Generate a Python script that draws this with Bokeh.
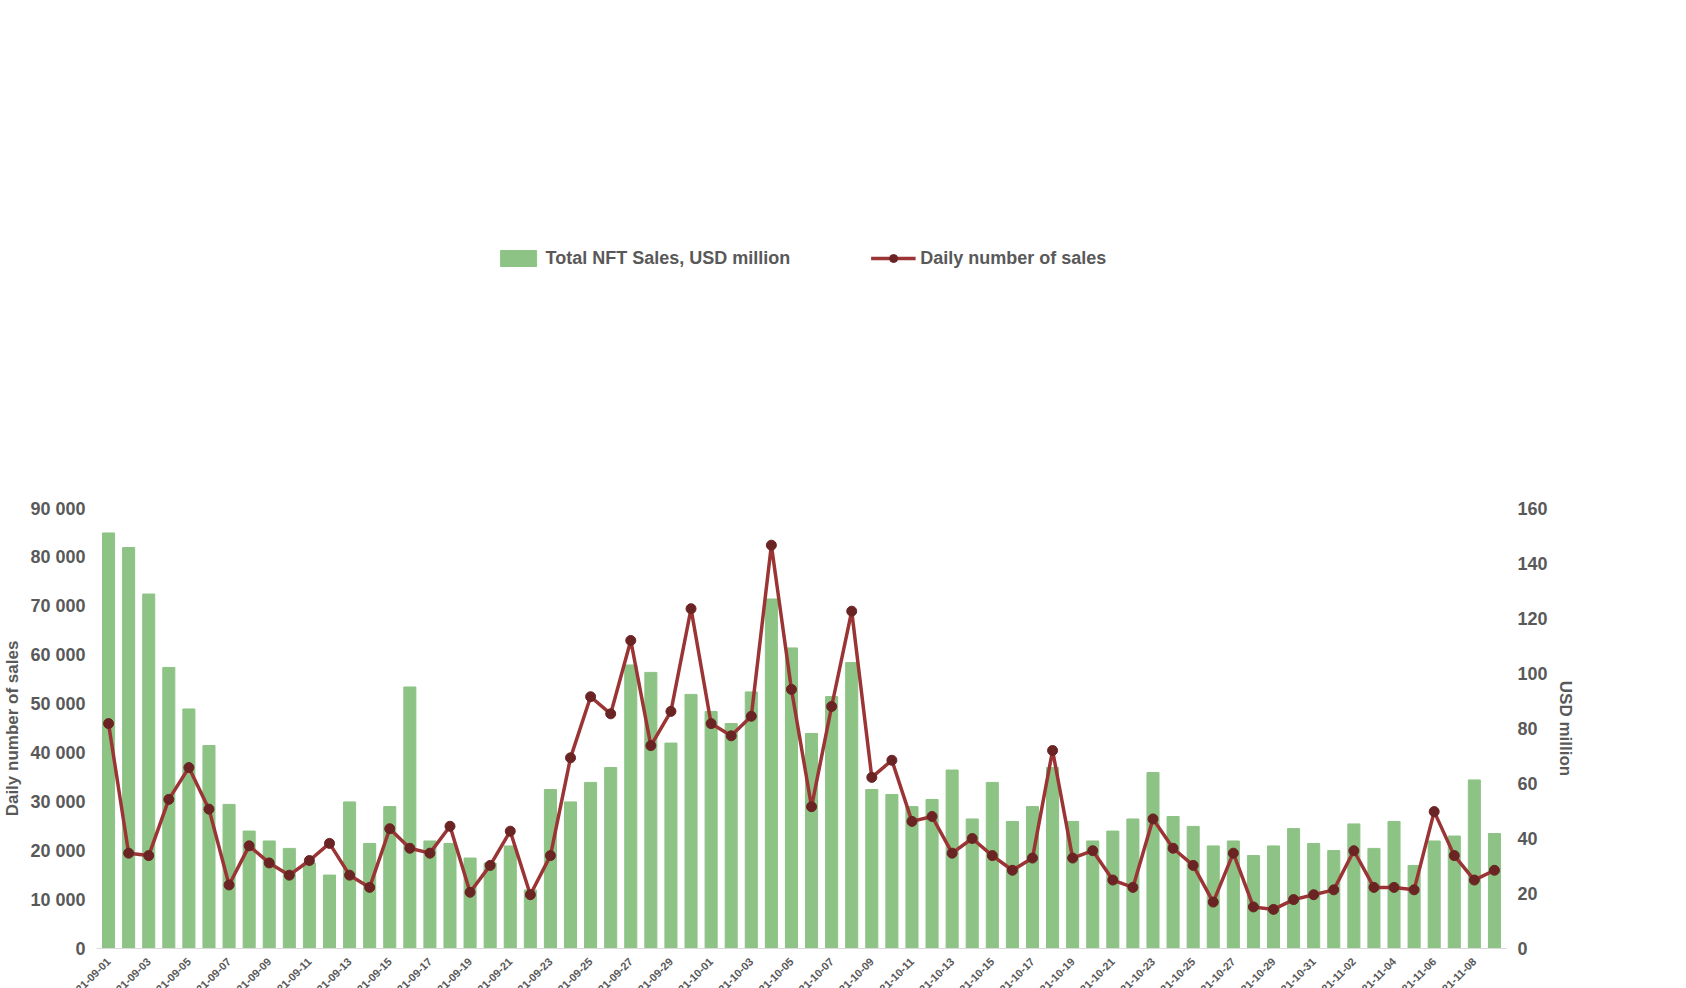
import pandas as pd
from bokeh.plotting import figure
from bokeh.models import Range1d, LinearAxis, Legend, LegendItem, FixedTicker
from bokeh.layouts import column
from bokeh.embed import file_html
from bokeh.resources import INLINE

dates = [d.strftime("%Y-%m-%d") for d in pd.date_range("2021-09-01", "2021-11-09")]

sales_k = [85, 82, 72.5, 57.5, 49, 41.5, 29.5, 24, 22, 20.5,
           17.5, 15, 30, 21.5, 29, 53.5, 22, 21.5, 18.5, 17.5,
           21, 12, 32.5, 30, 34, 37, 58, 56.5, 42, 52,
           48.5, 46, 52.5, 71.5, 61.5, 44, 51.5, 58.5, 32.5, 31.5,
           29, 30.5, 36.5, 26.5, 34, 26, 29, 37, 26, 22,
           24, 26.5, 36, 27, 25, 21, 22, 19, 21, 24.5,
           21.5, 20, 25.5, 20.5, 26, 17, 22, 23, 34.5, 23.5]
usd_million = [round(v * 160 / 90, 1) for v in sales_k]

daily_sales = [46000, 19500, 19000, 30500, 37000, 28500, 13000, 21000, 17500, 15000,
               18000, 21500, 15000, 12500, 24500, 20500, 19500, 25000, 11500, 17000,
               24000, 11000, 19000, 39000, 51500, 48000, 63000, 41500, 48500, 69500,
               46000, 43500, 47500, 82500, 53000, 29000, 49500, 69000, 35000, 38500,
               26000, 27000, 19500, 22500, 19000, 16000, 18500, 40500, 18500, 20000,
               14000, 12500, 26500, 20500, 17000, 9500, 19500, 8500, 8000, 10000,
               11000, 12000, 20000, 12500, 12500, 12000, 28000, 19000, 14000, 16000]

wallets = [23000, 17600, 16000, 19900, 18300, 16800, 11900, 13800, 13800, 11600,
           11900, 11300, 11600, 11300, 14900, 13800, 14000, 11800, 10800, 15900,
           10800, 15500, 22300, 26800, 25000, 30200, 27800, 27500, 29800, 24800,
           23600, 27500, 33400, 29000, 25000, 24300, 29200, 24000, 19200, 19800,
           17900, 17600, 14900, 15300, 14300, 21600, 16600, 15600, 14000, 13300,
           19000, 18000, 16200, 10900, 13900, 9300, 8900, 10600, 11300, 11600,
           15200, 11600, 11900, 11200, 16400, 15500, 12100, 13400]

FONT = "Liberation Sans"
GREY = "#595959"
n = len(dates)
x = list(range(n))
FW = 1410

p = figure(frame_width=FW, frame_height=440, output_backend="svg", toolbar_location=None,
           x_range=Range1d(-0.6, n - 0.4), y_range=Range1d(0, 90000),
           min_border_left=40, min_border_right=20, min_border_top=5, min_border_bottom=5)
p.extra_y_ranges = {"usd": Range1d(0, 160)}
p.grid.visible = False
p.outline_line_color = None

bars = p.vbar(x=x, top=usd_million, width=0.6, color="#8DC385", y_range_name="usd")
ln = p.line(x=x, y=daily_sales, line_color="#9B3535", line_width=3.5)
sc = p.scatter(x=x, y=daily_sales, size=10, fill_color="#6B2424", line_color="#6B2424")

yl = p.yaxis[0]
yl.ticker = FixedTicker(ticks=list(range(0, 90001, 10000)))
yl.major_label_overrides = {v: (f"{v // 1000} 000" if v else "0") for v in range(0, 90001, 10000)}
yl.axis_label = "Daily number of sales"

yr = LinearAxis(y_range_name="usd", ticker=FixedTicker(ticks=list(range(0, 161, 20))),
                axis_label="USD million")
p.add_layout(yr, "right")

xa = p.xaxis[0]
xa.ticker = FixedTicker(ticks=x[::2])
xa.major_label_overrides = {i: dates[i] for i in x[::2]}
xa.major_label_orientation = 0.785
xa.major_label_text_font_size = "11px"
xa.axis_line_color = "#D9D9D9"

for ax in [yl, yr, xa]:
    ax.major_label_text_font = FONT
    ax.major_label_text_font_style = "bold"
    ax.major_label_text_color = GREY
    ax.axis_label_text_font = FONT
    ax.axis_label_text_font_style = "bold"
    ax.axis_label_text_color = GREY
    ax.axis_label_text_font_size = "17px"
    ax.major_tick_line_color = None
    ax.minor_tick_line_color = None
for ax in [yl, yr]:
    ax.axis_line_color = None
    ax.major_label_text_font_size = "18px"

leg = Legend(items=[LegendItem(label="Total NFT Sales, USD million", renderers=[bars]),
                    LegendItem(label="Daily number of sales", renderers=[ln, sc])],
             orientation="horizontal", location="top_center", spacing=80,
             label_text_font=FONT, label_text_font_style="bold", label_text_color=GREY,
             label_text_font_size="18px", border_line_color=None, glyph_width=45,
             margin=4, padding=4)
p.add_layout(leg, "above")

q = figure(frame_width=FW, frame_height=265, output_backend="svg", toolbar_location=None,
           x_range=Range1d(-0.6, len(wallets) - 0.4), y_range=Range1d(0, 40000),
           min_border_left=40, min_border_right=20, min_border_top=5, min_border_bottom=5)
q.grid.visible = False
q.outline_line_color = None
wb = q.vbar(x=list(range(len(wallets))), top=wallets, width=0.6, color="#3D6B45")
q.xaxis.visible = False
qy = q.yaxis[0]
qy.ticker = FixedTicker(ticks=list(range(0, 40001, 5000)))
qy.major_label_text_font = FONT
qy.major_label_text_font_style = "bold"
qy.major_label_text_color = GREY
qy.major_label_text_font_size = "18px"
qy.axis_line_color = None
qy.major_tick_line_color = None
qy.minor_tick_line_color = None
qr = LinearAxis(ticker=FixedTicker(ticks=[]), axis_label="USD million",
                axis_label_text_font_size="17px", axis_label_text_color=None,
                axis_line_color=None, major_label_text_font_size="18px",
                major_tick_line_color=None, minor_tick_line_color=None)
q.add_layout(qr, "right")
leg2 = Legend(items=[LegendItem(label="Active Market Wallets", renderers=[wb])],
              orientation="horizontal", location="top_center",
              label_text_font=FONT, label_text_font_style="bold", label_text_color=GREY,
              label_text_font_size="18px", border_line_color=None, glyph_width=12,
              margin=4, padding=4)
q.add_layout(leg2, "above")

layout = column(p, q, spacing=0)
open("out.html", "w").write(file_html(layout, INLINE))
